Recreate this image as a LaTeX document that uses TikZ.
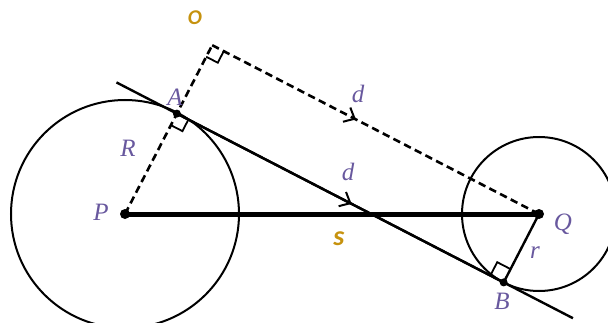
\documentclass[tikz,border=0pt]{standalone}
\usepackage{fontspec}
\setmainfont{Liberation Serif}
\newfontfamily\lblsans{Carlito}
\usetikzlibrary{calc,arrows.meta,decorations.markings}
\definecolor{lblpurple}{RGB}{104,88,158}
\definecolor{lblgold}{RGB}{198,146,14}
\tikzset{
  circ/.style={line width=2pt},
  tang/.style={line width=2.4pt},
  dashline/.style={line width=2.6pt,dash pattern=on 7.5pt off 4.5pt},
  thickline/.style={line width=5pt},
  rightmark/.style={line width=1.8pt},
  dotbig/.style={circle,fill=black,inner sep=0pt,minimum size=10pt},
  dotsmall/.style={circle,fill=black,inner sep=0pt,minimum size=8pt},
  ptlabel/.style={text=lblpurple,font=\fontsize{25}{25}\selectfont\itshape,inner sep=0pt},
  goldlabel/.style={text=lblgold,inner sep=0pt,font={\lblsans\fontsize{#1}{#1}\selectfont\bfseries\itshape}},
  midarrow/.style={postaction={decorate},decoration={markings,
     mark=at position #1 with {\arrow[solid,line width=2pt]{Straight Barb[length=9pt,width=16pt]}}}}
}
\begin{document}
\begin{tikzpicture}[x=1pt,y=1pt]
\useasboundingbox (0,0) rectangle (608,322);
\def\th{62.68}
\coordinate (P) at (125,108);
\coordinate (Q) at (539,108);
\coordinate (A) at ($(P)+(\th:113)$);
\coordinate (O) at ($(P)+(\th:190)$);
\coordinate (B) at ($(Q)+(\th+180:77)$);
\coordinate (T1) at ($(A)+(\th+90:68)$);
\coordinate (T2) at ($(B)+(\th-90:78)$);
% circles
\draw[circ] (P) circle[radius=114];
\draw[circ] (Q) circle[radius=77];
% dashed construction
\draw[dashline] (P) -- (O);
\draw[dashline,midarrow=0.44] (O) -- (Q);
% tangent
\draw[tang] (T1) -- (T2);
\draw[tang,midarrow=0.535] (A) -- (B);
% centre line
\draw[thickline] (P) -- (Q);
% radius r
\draw[tang] (Q) -- (B);
% right-angle marks
\draw[rightmark] ($(A)+(\th+180:13)$) -- ++(\th-90:13) -- ++(\th:13);
\draw[rightmark] ($(O)+(\th+180:13)$) -- ++(\th-90:13) -- ++(\th:13);
\draw[rightmark] ($(B)+(\th:15)$) -- ++(\th+90:15) -- ++(\th+180:15);
% dots
\node[dotbig] (dP) at (P) {};
\node[dotbig] (dQ) at (Q) {};
\node[dotsmall] (dA) at (A) {};
\node[dotsmall] (dB) at (B) {};
% labels
\node[ptlabel] (lA) at (175,225) {A};
\node[ptlabel] (lR) at (128,174) {R};
\node[ptlabel] (lP) at (101,110) {P};
\node[ptlabel] (lQ) at (563,98) {Q};
\node[ptlabel] (lr) at (535,69) {r};
\node[ptlabel] (lB) at (502,21) {B};
\node[ptlabel] (ld1) at (358,228) {d};
\node[ptlabel] (ld2) at (348,150) {d};
\node[goldlabel=21] (lO) at (195,304) {O};
\node[goldlabel=28] (ls) at (339,83) {s};
\end{tikzpicture}
\end{document}
